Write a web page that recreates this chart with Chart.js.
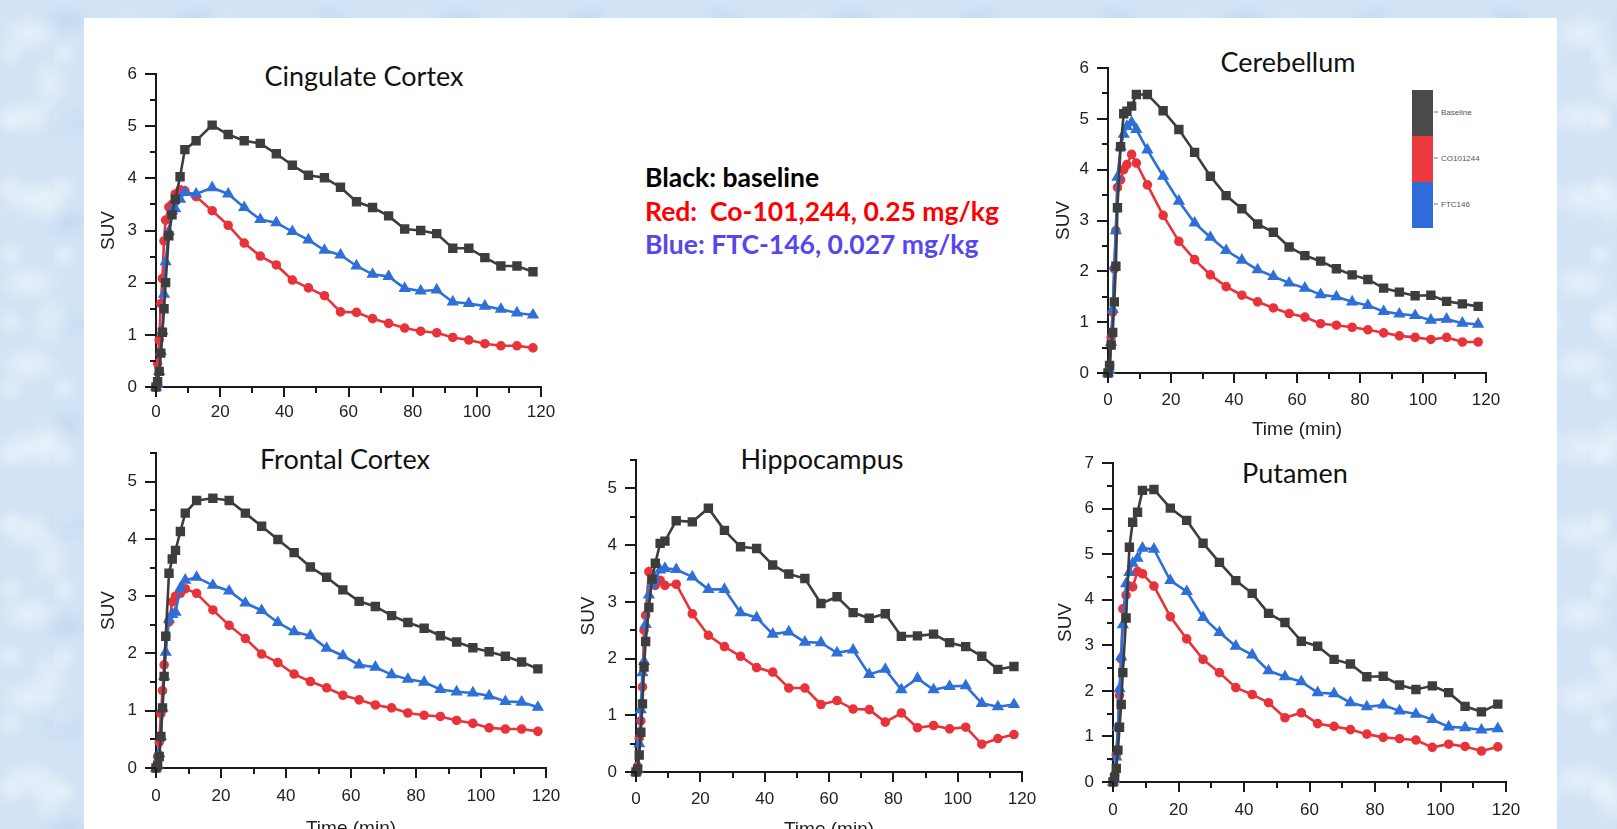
<!DOCTYPE html>
<html>
<head>
<meta charset="utf-8">
<script src="https://cdn.jsdelivr.net/npm/chart.js@4.4.1/dist/chart.umd.min.js"></script>
<style>
  html, body { margin: 0; padding: 0; width: 1617px; height: 829px; overflow: hidden; }
  body {
    position: relative;
    background-color: #d2e3f5;
    background-image:
      radial-gradient(ellipse 34px 22px at 30% 40%, rgba(255,255,255,0.45), rgba(255,255,255,0)),
      radial-gradient(ellipse 22px 30px at 70% 70%, rgba(255,255,255,0.4), rgba(255,255,255,0)),
      radial-gradient(ellipse 28px 18px at 50% 20%, rgba(175,205,238,0.4), rgba(175,205,238,0)),
      radial-gradient(ellipse 16px 16px at 20% 80%, rgba(255,255,255,0.35), rgba(255,255,255,0));
    background-size: 97px 83px, 71px 119px, 131px 101px, 53px 67px;
    font-family: "Liberation Sans", Arial, sans-serif;
  }
  #panel { position: absolute; left: 84px; top: 18px; width: 1473px; height: 830px; background: #fff; }
  canvas { position: absolute; }
  .title {
    position: absolute; transform: translate(-50%, -50%);
    font-family: Lato, "Noto Sans", sans-serif; font-size: 27px; color: #111; white-space: nowrap;
  }
  #note {
    position: absolute; left: 645px; top: 161px;
    font-family: Lato, "Noto Sans", sans-serif; font-weight: bold; font-size: 26.5px;
    line-height: 33.5px; white-space: pre;
  }
  #cbar { position: absolute; left: 1412px; top: 90px; width: 21px; }
  #cbar div { height: 46px; }
  .clab {
    position: absolute; left: 1434px; transform: translateY(-50%);
    font-size: 8px; color: #555; white-space: nowrap;
  }
  .clab::before { content: ""; display: inline-block; width: 4px; height: 1px; background: #777; vertical-align: middle; margin-right: 3px; }
</style>
</head>
<body>
<div id="panel"></div>

<div class="title" style="left:364px; top:75px;">Cingulate Cortex</div>
<div class="title" style="left:1288px; top:61px;">Cerebellum</div>
<div class="title" style="left:345px; top:458px;">Frontal Cortex</div>
<div class="title" style="left:822px; top:458px;">Hippocampus</div>
<div class="title" style="left:1295px; top:472px;">Putamen</div>

<div id="note"><span style="color:#000">Black: baseline</span>
<span style="color:#ff0000">Red:  Co-101,244, 0.25 mg/kg</span>
<span style="color:#5646ee">Blue: FTC-146, 0.027 mg/kg</span></div>

<div id="cbar">
  <div style="background:#4a4a4a"></div>
  <div style="background:#ec3a40"></div>
  <div style="background:#2f6cdb"></div>
</div>
<div class="clab" style="top:112px;">Baseline</div>
<div class="clab" style="top:158px;">CO101244</div>
<div class="clab" style="top:204px;">FTC146</div>

<script>
// frame mid-times (min)
const times = [0, 0.5, 1, 1.5, 2, 2.5, 3, 4, 5, 6, 7.5, 9, 12.5, 17.5, 22.5, 27.5, 32.5, 37.5, 42.5,
  47.5, 52.5, 57.5, 62.5, 67.5, 72.5, 77.5, 82.5, 87.5, 92.5, 97.5, 102.5, 107.5, 112.5, 117.5];

const cingulateBaseline = [0, 0.1, 0.3, 0.65, 1.05, 1.5, 2.0, 2.9, 3.3, 3.6, 4.03, 4.55, 4.72,
  5.02, 4.84, 4.72, 4.67, 4.47, 4.25, 4.06, 4.01, 3.83, 3.55, 3.44, 3.28, 3.03, 3.0, 2.94, 2.66, 2.66, 2.48, 2.32, 2.32, 2.21];
const cingulateCo = [0, 0.45, 0.9, 1.6, 2.08, 2.8, 3.2, 3.45, 3.5, 3.7, 3.78, 3.76, 3.65,
  3.38, 3.1, 2.76, 2.51, 2.34, 2.05, 1.9, 1.75, 1.44, 1.43, 1.31, 1.22, 1.13, 1.07, 1.04, 0.95, 0.9, 0.83, 0.79, 0.79, 0.75];
const cingulateFtc = [0, 0.05, 0.3, 0.68, 1.07, 1.78, 2.4, 2.98, 3.38, 3.42, 3.6, 3.73, 3.7,
  3.82, 3.7, 3.44, 3.21, 3.15, 2.98, 2.82, 2.62, 2.53, 2.32, 2.16, 2.12, 1.89, 1.84, 1.86, 1.63, 1.6, 1.55, 1.49, 1.42, 1.38];

const cerebellumBaseline = [0, 0.15, 0.55, 0.8, 1.4, 2.1, 3.25, 4.45, 5.1, 5.15, 5.25, 5.48, 5.48,
  5.16, 4.79, 4.34, 3.87, 3.49, 3.23, 2.93, 2.77, 2.48, 2.31, 2.2, 2.05, 1.93, 1.84, 1.67, 1.59, 1.52, 1.53, 1.41, 1.36, 1.31];
const cerebellumCo = [0, 0.15, 0.7, 1.2, 2.05, 2.8, 3.65, 3.8, 4.0, 4.1, 4.3, 4.13, 3.7,
  3.1, 2.59, 2.23, 1.93, 1.7, 1.53, 1.4, 1.28, 1.17, 1.1, 0.97, 0.94, 0.9, 0.85, 0.79, 0.73, 0.7, 0.66, 0.7, 0.61, 0.61];
const cerebellumFtc = [0, 0.05, 0.6, 1.25, 2.1, 2.8, 3.85, 4.45, 4.7, 4.85, 4.93, 4.79, 4.39,
  3.87, 3.38, 2.95, 2.67, 2.41, 2.22, 2.03, 1.9, 1.77, 1.67, 1.54, 1.5, 1.4, 1.33, 1.21, 1.16, 1.13, 1.04, 1.06, 0.98, 0.96];

const frontalBaseline = [0, 0.05, 0.2, 0.55, 1.05, 1.6, 2.3, 3.4, 3.65, 3.8, 4.13, 4.45, 4.67,
  4.71, 4.67, 4.45, 4.22, 3.99, 3.76, 3.51, 3.33, 3.11, 2.91, 2.82, 2.66, 2.54, 2.44, 2.31, 2.2, 2.1, 2.03, 1.95, 1.85, 1.73];
const frontalCo = [0, 0.2, 0.45, 0.95, 1.35, 1.8, 2.3, 2.55, 2.9, 3.0, 3.05, 3.13, 3.05,
  2.76, 2.49, 2.26, 1.99, 1.84, 1.64, 1.51, 1.4, 1.27, 1.19, 1.1, 1.05, 0.96, 0.92, 0.9, 0.83, 0.78, 0.7, 0.68, 0.68, 0.64];
const frontalFtc = [0, 0.05, 0.25, 0.55, 1.05, 1.6, 2.02, 2.6, 2.68, 2.72, 3.14, 3.28, 3.33,
  3.19, 3.09, 2.88, 2.75, 2.54, 2.38, 2.31, 2.09, 1.96, 1.8, 1.76, 1.63, 1.55, 1.5, 1.37, 1.33, 1.31, 1.26, 1.16, 1.15, 1.06];

const hippocampusBaseline = [0, 0.05, 0.3, 0.7, 1.2, 1.85, 2.3, 2.9, 3.4, 3.68, 4.03, 4.07, 4.43,
  4.41, 4.65, 4.26, 3.97, 3.94, 3.65, 3.49, 3.41, 2.97, 3.09, 2.81, 2.71, 2.79, 2.39, 2.4, 2.43, 2.28, 2.21, 2.04, 1.81, 1.86];
const hippocampusCo = [0, 0.1, 0.6, 0.9, 1.5, 2.5, 2.76, 3.53, 3.35, 3.29, 3.38, 3.29, 3.31,
  2.79, 2.41, 2.21, 2.04, 1.84, 1.76, 1.48, 1.48, 1.19, 1.26, 1.11, 1.1, 0.88, 1.04, 0.78, 0.82, 0.76, 0.79, 0.49, 0.59, 0.66];
const hippocampusFtc = [0, 0.05, 0.5, 1.1, 1.75, 1.95, 2.6, 3.12, 3.3, 3.4, 3.56, 3.59, 3.57,
  3.44, 3.22, 3.22, 2.81, 2.72, 2.43, 2.47, 2.29, 2.28, 2.1, 2.15, 1.72, 1.81, 1.45, 1.65, 1.45, 1.51, 1.52, 1.21, 1.15, 1.19];

const putamenBaseline = [0, 0.1, 0.3, 0.7, 1.2, 1.7, 2.4, 3.6, 5.15, 5.7, 5.92, 6.4, 6.42,
  6.01, 5.74, 5.24, 4.82, 4.42, 4.14, 3.7, 3.5, 3.09, 2.98, 2.69, 2.59, 2.31, 2.32, 2.13, 2.03, 2.11, 1.96, 1.66, 1.54, 1.71];
const putamenCo = [0, 0.15, 0.6, 1.2, 1.9, 2.7, 3.8, 4.1, 4.3, 4.28, 4.62, 4.57, 4.3,
  3.63, 3.14, 2.69, 2.4, 2.07, 1.92, 1.74, 1.41, 1.52, 1.28, 1.22, 1.15, 1.05, 0.98, 0.95, 0.92, 0.76, 0.83, 0.78, 0.68, 0.77];
const putamenFtc = [0, 0.05, 0.55, 1.2, 2.05, 2.75, 3.45, 4.35, 4.6, 4.8, 4.91, 5.13, 5.11,
  4.42, 4.18, 3.61, 3.28, 2.98, 2.79, 2.44, 2.31, 2.2, 1.96, 1.94, 1.74, 1.65, 1.69, 1.56, 1.49, 1.37, 1.21, 1.19, 1.14, 1.17];

const xMax = 120;

// where each panel's plot area sits on the page
// (padding is larger than the tick-label overhang so Chart.js doesn't shrink the plot)
const PAD_TOP = 34, PAD_RIGHT = 38;
const panels = [
  { base: cingulateBaseline, co: cingulateCo, ftc: cingulateFtc, yMax: 6, time: false,
    left: 156, top: 74, w: 385, h: 313, wy: 59, hx: 45, tickPad: 15 },
  { base: cerebellumBaseline, co: cerebellumCo, ftc: cerebellumFtc, yMax: 6, time: true,
    left: 1108, top: 68, w: 378, h: 305, wy: 56, hx: 68, tickPad: 17 },
  { base: frontalBaseline, co: frontalCo, ftc: frontalFtc, yMax: 5.5, time: true,
    left: 156, top: 453, w: 390, h: 315, wy: 59, hx: 72, tickPad: 18 },
  { base: hippocampusBaseline, co: hippocampusCo, ftc: hippocampusFtc, yMax: 5.5, time: true,
    left: 636, top: 460, w: 386, h: 312, wy: 59, hx: 69, tickPad: 17 },
  { base: putamenBaseline, co: putamenCo, ftc: putamenFtc, yMax: 7, time: false,
    left: 1113, top: 463, w: 393, h: 319, wy: 59, hx: 45, tickPad: 18 },
];

// major + minor tick marks pointing outwards
const axisTicks = {
  id: "axisTicks",
  afterDraw(chart) {
    const ctx = chart.ctx;
    const x = chart.scales.x, y = chart.scales.y;
    ctx.save();
    ctx.strokeStyle = "#1a1a1a";
    ctx.lineWidth = 2;
    ctx.beginPath();
    for (let v = 0; v <= x.max + 1e-6; v += 10) {
      const px = Math.round(x.getPixelForValue(v));
      const len = v % 20 === 0 ? 10 : 6;
      ctx.moveTo(px, x.top);
      ctx.lineTo(px, x.top + len);
    }
    for (let v = 0; v <= y.max + 1e-6; v += 0.5) {
      const py = Math.round(y.getPixelForValue(v));
      const len = Number.isInteger(v) ? 11 : 6;
      ctx.moveTo(y.right, py);
      ctx.lineTo(y.right - len, py);
    }
    ctx.stroke();
    ctx.restore();
  }
};

function series(values) {
  return times.map((t, i) => ({ x: t, y: values[i] }));
}

function makeChart(p) {
  const canvas = document.createElement("canvas");
  canvas.width = p.wy + p.w + PAD_RIGHT;
  canvas.height = PAD_TOP + p.h + p.hx;
  canvas.style.left = (p.left - p.wy) + "px";
  canvas.style.top = (p.top - PAD_TOP) + "px";
  document.body.appendChild(canvas);

  const tickFont = { family: "'Liberation Sans', Arial, sans-serif", size: 17 };
  const titleFont = { family: "'Liberation Sans', Arial, sans-serif", size: 19 };

  new Chart(canvas.getContext("2d"), {
    type: "line",
    data: {
      datasets: [
        {
          label: "Baseline",
          data: series(p.base),
          borderColor: "#3d3d3d",
          backgroundColor: "#3d3d3d",
          pointStyle: "rect",
          pointRadius: 4.8,
          borderWidth: 2.6,
        },
        {
          label: "FTC146",
          data: series(p.ftc),
          borderColor: "#2e6fd8",
          backgroundColor: "#2e6fd8",
          pointStyle: "triangle",
          pointRadius: 4.5,
          borderWidth: 2.6,
        },
        {
          label: "CO101244",
          data: series(p.co),
          borderColor: "#e8333b",
          backgroundColor: "#e8333b",
          pointStyle: "circle",
          pointRadius: 3.5,
          borderWidth: 2.6,
        },
      ],
    },
    options: {
      responsive: false,
      animation: false,
      clip: false,
      layout: { padding: { top: PAD_TOP, right: PAD_RIGHT, left: 0, bottom: 0 } },
      elements: { line: { tension: 0 } },
      scales: {
        x: {
          type: "linear",
          min: 0,
          max: xMax,
          afterFit: (s) => { s.height = p.hx; },
          grid: { display: false, drawTicks: false, tickLength: 0 },
          border: { display: true, color: "#1a1a1a", width: 2 },
          ticks: { stepSize: 20, padding: p.tickPad, color: "#222", font: tickFont, maxRotation: 0 },
          title: { display: p.time, text: "Time (min)", color: "#222", font: titleFont, padding: 0 },
        },
        y: {
          min: 0,
          max: p.yMax,
          afterFit: (s) => { s.width = p.wy; },
          grid: { display: false, drawTicks: false, tickLength: 0 },
          border: { display: true, color: "#1a1a1a", width: 2 },
          ticks: {
            stepSize: 1,
            includeBounds: false,
            padding: 19,
            color: "#222",
            font: tickFont,
            callback: (v) => (Number.isInteger(v) ? v : ""),
          },
          title: { display: true, text: "SUV", color: "#222", font: titleFont, padding: 0 },
        },
      },
      plugins: {
        legend: { display: false },
        tooltip: { enabled: false },
      },
    },
    plugins: [axisTicks],
  });
}

panels.forEach(makeChart);
</script>
</body>
</html>
